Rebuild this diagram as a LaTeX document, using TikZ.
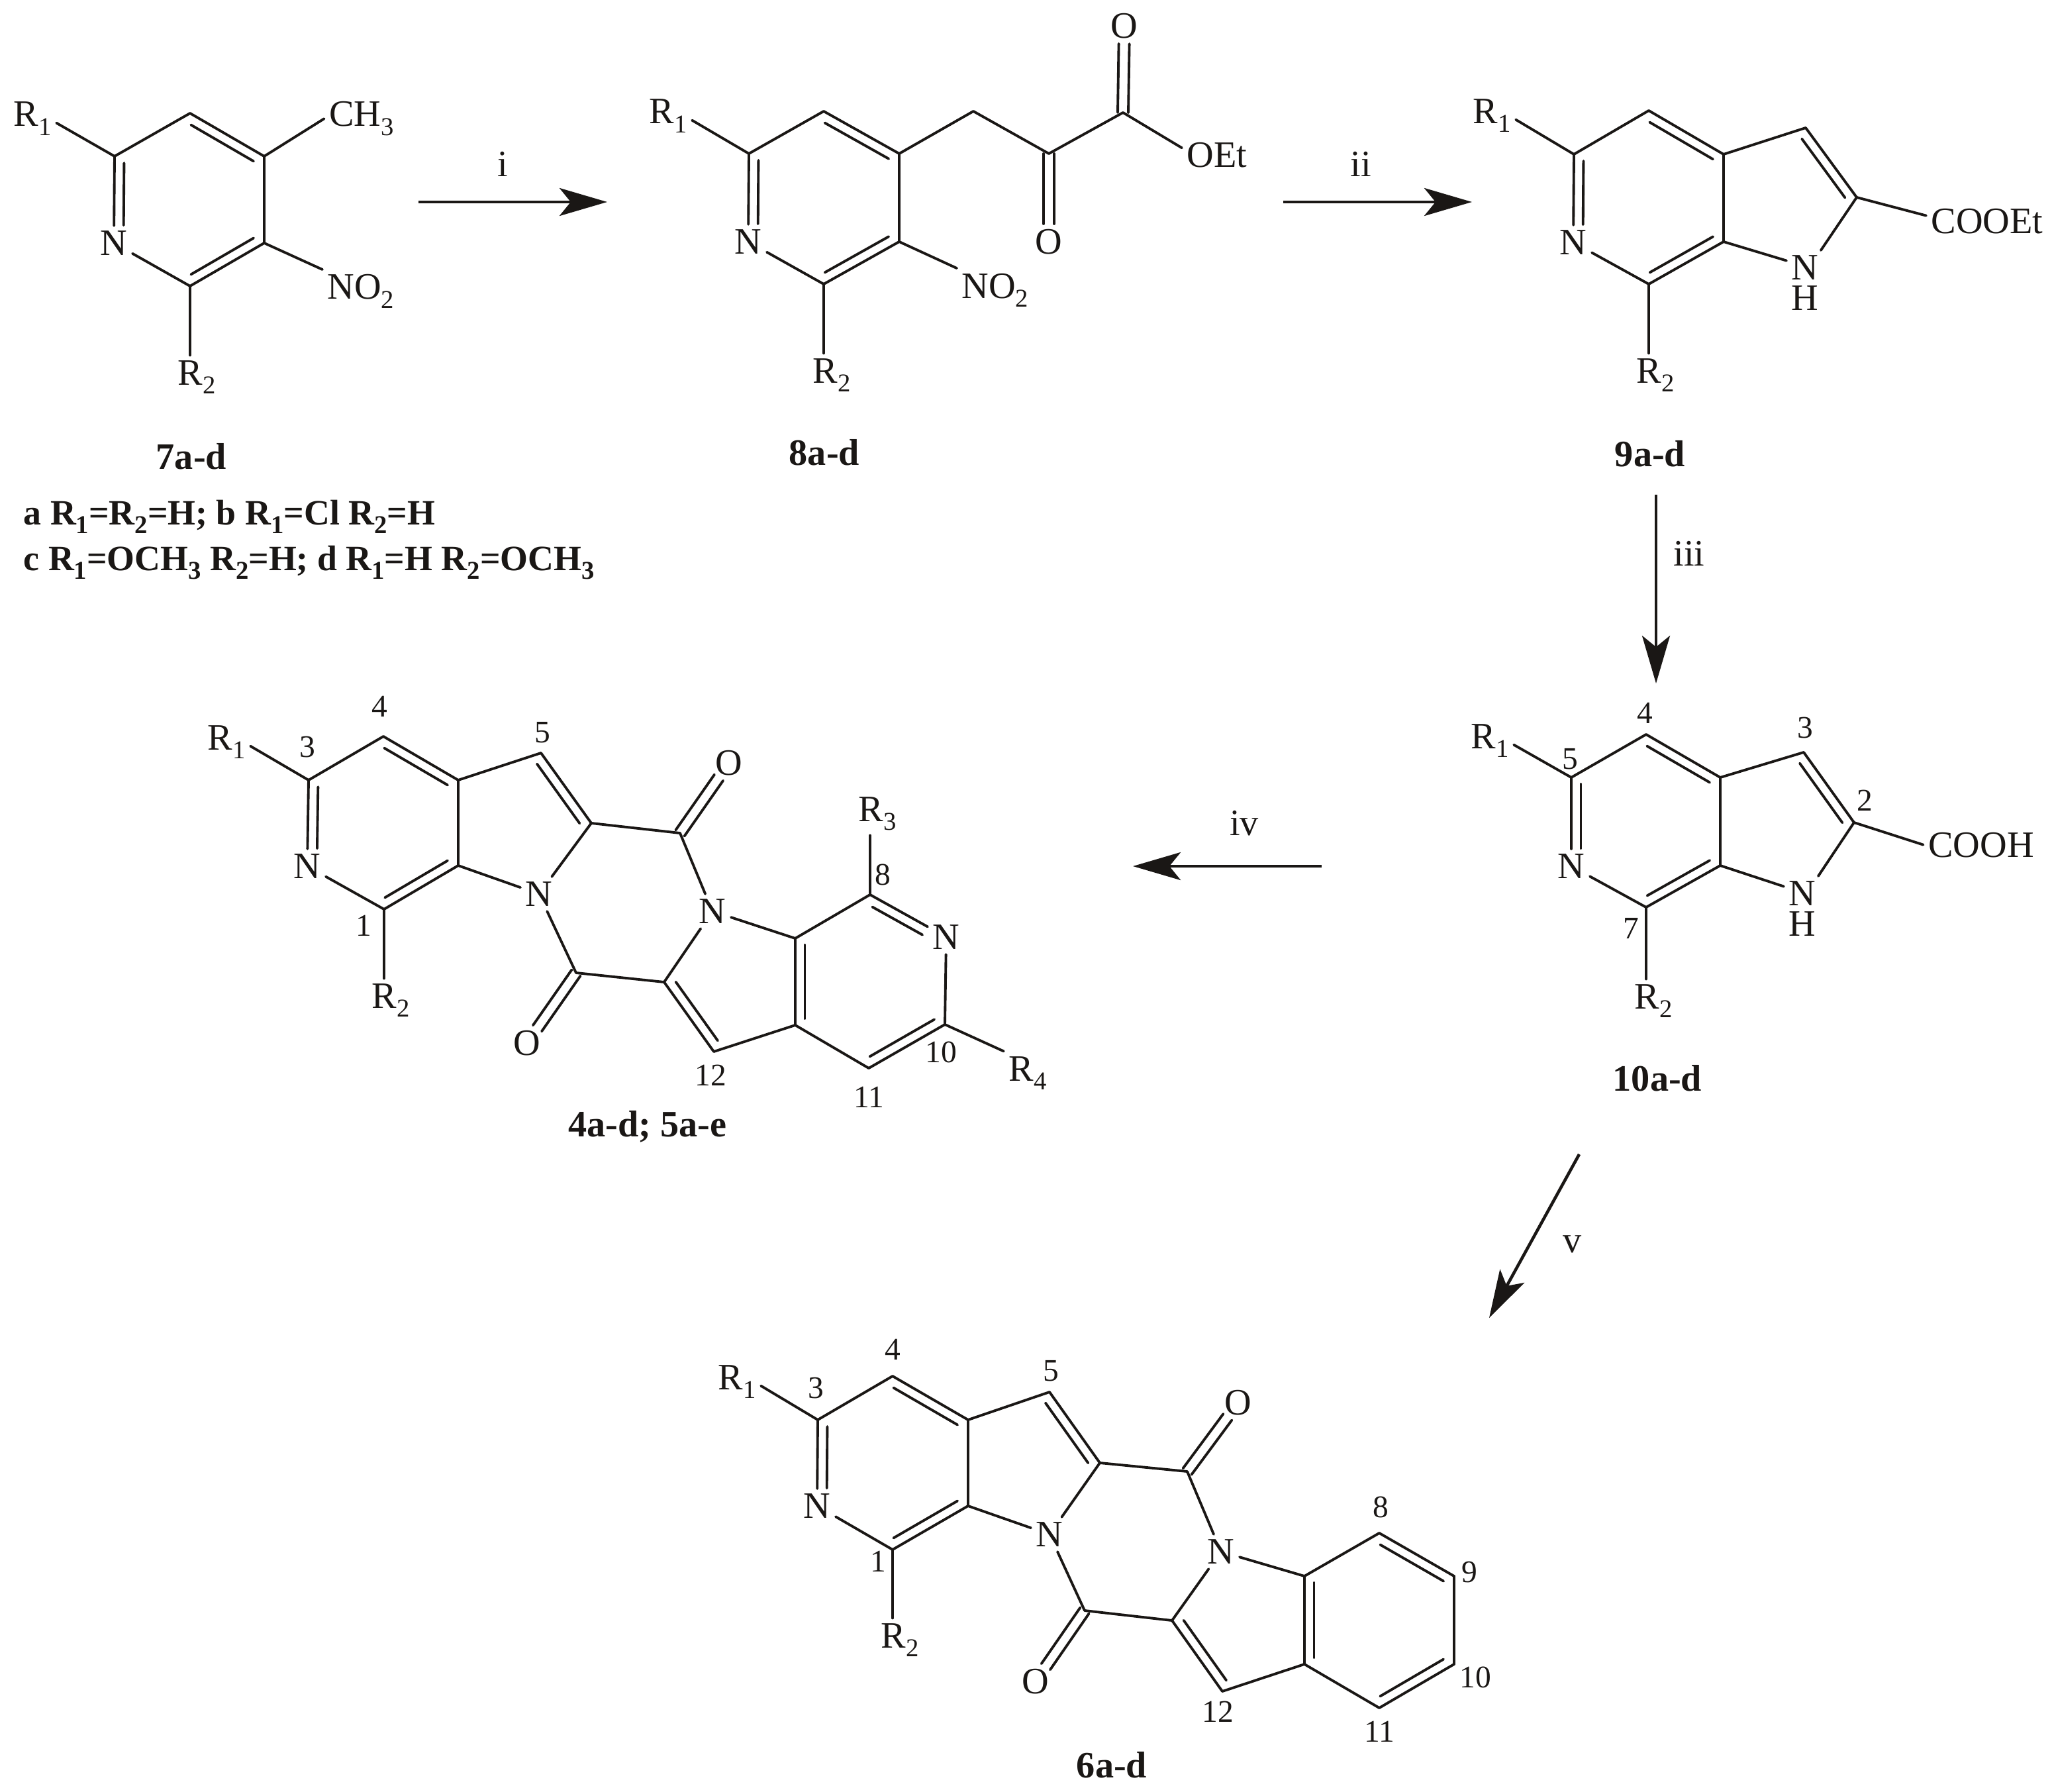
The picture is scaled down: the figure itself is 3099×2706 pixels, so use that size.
\documentclass[tikz,border=0pt]{standalone}
\usepackage{fontspec}
\setmainfont{Liberation Serif}
\usetikzlibrary{arrows.meta}
\usetikzlibrary{calc}
\definecolor{ink}{HTML}{1A1715}
\newcommand{\sbs}[1]{\raisebox{-3.8pt}{\fontsize{11}{11}\selectfont #1}}
\tikzstyle{atom}=[font=\fontsize{16}{18}\selectfont,inner sep=2pt,text=ink]
\tikzstyle{group}=[atom,anchor=base]
\tikzstyle{amine}=[font=\fontsize{16}{13}\selectfont,inner sep=2pt,text=ink,align=center,anchor=north]
\tikzstyle{locant}=[font=\fontsize{13.5}{15}\selectfont,inner sep=0pt,anchor=base,text=ink]
\tikzstyle{compound}=[font=\fontsize{16}{18}\selectfont\bfseries,inner sep=0pt,anchor=base,text=ink]
\tikzstyle{variant}=[font=\fontsize{15.3}{18}\selectfont\bfseries,inner sep=0pt,anchor=base west,text=ink]
\tikzstyle{bond}=[draw=ink,line width=1.1pt,line cap=round]
\tikzstyle{reaction}=[draw=ink,line width=1.3pt,-{Stealth[length=0.72cm,width=0.42cm,inset=0.17cm,fill=ink]}]
\begin{document}
\begin{tikzpicture}[x=0.01cm,y=-0.01cm]
    \useasboundingbox (0,0) rectangle (3099,2706);

    % ring corners of every compound
    \foreach \pos/ \name in {{(173,236)/a1},{(287,171)/a2},{(399,236)/a3},{(399,367)/a4},{(287,432)/a5},
        {(1131,232)/b1},{(1244,168)/b2},{(1358,232)/b3},{(1358,365)/b4},{(1244,429)/b5},{(1470,168)/b6},{(1584,232)/b7},{(1696,170)/b8},
        {(2377,233)/c1},{(2490,167)/c2},{(2603,233)/c3},{(2603,365)/c4},{(2490,429)/c5},{(2727,193)/c6},{(2804,298)/c7},
        {(2373,1174)/d1},{(2486,1109)/d2},{(2598,1174)/d3},{(2598,1307)/d4},{(2486,1370)/d5},{(2724,1136)/d6},{(2800,1242)/d7},
        {(466,1178)/e1},{(579,1112)/e2},{(692,1178)/e3},{(692,1307)/e4},{(580,1373)/e5},{(817,1137)/e6},{(893,1243)/e7},{(1027,1258)/e8},
        {(870,1469)/e9},{(1003,1483)/e10},{(1078,1588)/e11},{(1201,1548)/e12},{(1201,1417)/e13},{(1314,1351)/e14},{(1427,1547)/e15},{(1312,1613)/e16},
        {(1235,2144)/f1},{(1348,2078)/f2},{(1462,2144)/f3},{(1462,2274)/f4},{(1348,2340)/f5},{(1585,2102)/f6},{(1661,2209)/f7},{(1793,2222)/f8},
        {(1638,2432)/f9},{(1770,2447)/f10},{(1846,2554)/f11},{(1970,2513)/f12},{(1970,2380)/f13},{(2083,2315)/f14},{(2196,2380)/f15},{(2196,2513)/f16},{(2083,2579)/f17}}
        \path \pos coordinate (\name);

    % N and O in the rings
    \foreach \pos/ \name/ \txt in {{(172,367)/aN/N},{(1130,365)/bN/N},{(1698,39)/bO1/O},{(1584,365)/bO2/O},
        {(2376,366)/cN/N},{(2373,1308)/dN/N},
        {(464,1308)/eN1/N},{(814,1350)/eN2/N},{(1076,1376)/eN3/N},{(1429,1415)/eN4/N},{(1101,1152)/eO1/O},{(796,1575)/eO2/O},
        {(1234,2274)/fN1/N},{(1585,2317)/fN2/N},{(1844,2343)/fN3/N},{(1870,2118)/fO1/O},{(1564,2539)/fO2/O}}
        \node[atom] (\name) at \pos {\txt};
    \node[amine] (cNH) at (2726,378) {N\\H};
    \node[amine] (dNH) at (2722,1323) {N\\H};

    % substituents, at their baselines
    \foreach \pos/ \name/ \txt in {{(49,191)/aR1/R\sbs{1}},{(297,581)/aR2/R\sbs{2}},{(546,191)/aCH/CH\sbs{3}},{(545,452)/aNO/NO\sbs{2}},
        {(1009,187)/bR1/R\sbs{1}},{(1256,578)/bR2/R\sbs{2}},{(1503,450)/bNO/NO\sbs{2}},{(1838,252)/bOEt/OEt},
        {(2253,186)/cR1/R\sbs{1}},{(2500,578)/cR2/R\sbs{2}},{(3001,352)/cCO/COOEt},
        {(2250,1130)/dR1/R\sbs{1}},{(2497,1523)/dR2/R\sbs{2}},{(2992,1294)/dCO/COOH},
        {(342,1132)/eR1/R\sbs{1}},{(590,1522)/eR2/R\sbs{2}},{(1325,1240)/eR3/R\sbs{3}},{(1552,1632)/eR4/R\sbs{4}},
        {(1113,2098)/fR1/R\sbs{1}},{(1359,2488)/fR2/R\sbs{2}}}
        \node[group] (\name) at \pos {\txt};

    % ring position numbers
    \foreach \pos/ \name/ \txt in {{(2484,1092)/dl4/4},{(2726,1114)/dl3/3},{(2371,1161)/dl5/5},{(2816,1224)/dl2/2},{(2463,1417)/dl7/7},
        {(573,1082)/el4/4},{(819,1121)/el5/5},{(464,1143)/el3/3},{(549,1413)/el1/1},{(1333,1336)/el8/8},{(1421,1604)/el10/10},{(1073,1639)/el12/12},{(1312,1672)/el11/11},
        {(1348,2053)/fl4/4},{(1587,2085)/fl5/5},{(1232,2111)/fl3/3},{(1326,2373)/fl1/1},{(2085,2291)/fl8/8},{(2219,2389)/fl9/9},{(2228,2548)/fl10/10},{(2083,2630)/fl11/11},{(1839,2600)/fl12/12}}
        \node[locant] (\name) at \pos {\txt};

    % compound numbers
    \foreach \pos/ \name/ \txt in {{(289,708)/n7/7a-d},{(1245,702)/n8/8a-d},{(2492,704)/n9/9a-d},{(2503,1647)/n10/10a-d},{(978,1716)/n4/{4a-d; 5a-e}},{(1679,2684)/n6/6a-d}}
        \node[compound] (\name) at \pos {\txt};
    \node[variant] (va) at (35,792) {a R\sbs{1}=R\sbs{2}=H; b R\sbs{1}=Cl R\sbs{2}=H};
    \node[variant] (vb) at (35,861) {c R\sbs{1}=OCH\sbs{3} R\sbs{2}=H; d R\sbs{1}=H R\sbs{2}=OCH\sbs{3}};

    % Connect ring corners and labels with single lines
    \foreach \source/ \dest in {a1/a2,a2/a3,a3/a4,a4/a5,a5/aN,aN/a1,a1/aR1.-10,a3/aCH.west,a4/aNO.north west,
        b1/b2,b2/b3,b3/b4,b4/b5,b5/bN,bN/b1,b3/b6,b6/b7,b7/b8,b8/bOEt.169,b1/bR1.-10,b4/bNO.north west,
        c1/c2,c2/c3,c3/c4,c4/c5,c5/cN,cN/c1,c3/c6,c6/c7,c7/cNH.64,cNH.130/c4,c7/cCO.175,c1/cR1.-10,
        d1/d2,d2/d3,d3/d4,d4/d5,d5/dN,dN/d1,d3/d6,d6/d7,d7/dNH.64,dNH.130/d4,d7/dCO.west,d1/dR1.-10,
        e1/e2,e2/e3,e3/e4,e4/e5,e5/eN1,eN1/e1,e3/e6,e6/e7,e7/eN2,eN2/e4,e7/e8,e8/eN3,eN3/e10,e10/e9,e9/eN2,
        e10/e11,e11/e12,e12/e13,e13/eN3,e13/e14,e14/eN4,eN4/e15,e15/e16,e16/e12,e1/eR1.-10,e15/eR4.north west,
        f1/f2,f2/f3,f3/f4,f4/f5,f5/fN1,fN1/f1,f3/f6,f6/f7,f7/fN2,fN2/f4,f7/f8,f8/fN3,fN3/f10,f10/f9,f9/fN2,
        f10/f11,f11/f12,f12/f13,f13/fN3,f13/f14,f14/f15,f15/f16,f16/f17,f17/f12,f1/fR1.-10}
        \path[bond] (\source) -- (\dest);
    \foreach \vtx/ \lbl in {a5/aR2,b5/bR2,c5/cR2,d5/dR2,e5/eR2,f5/fR2}
        \path[bond] (\vtx) -- (\vtx |- \lbl.north);
    \path[bond] (e14) -- (e14 |- eR3.south);

    % second line of ring double bonds, on the left going from source to dest
    \foreach \source/ \dest in {a3/a2,a5/a4,b3/b2,b5/b4,c3/c2,c5/c4,c7/c6,d3/d2,d5/d4,d7/d6,
        e3/e2,e5/e4,e7/e6,e10/e11,e13/e12,e16/e15,f3/f2,f5/f4,f7/f6,f10/f11,f13/f12,f17/f16,f15/f14}
        \path[bond,shorten <=0.1cm,shorten >=0.1cm] ($(\source)!0.145cm!90:(\dest)$) -- ($(\dest)!0.145cm!-90:(\source)$);
    \foreach \source/ \dest/ \cutA/ \cutB in {a1/aN/0.1/0.27,b1/bN/0.1/0.27,c1/cN/0.1/0.27,d1/dN/0.1/0.27,e1/eN1/0.1/0.27,eN4/e14/0.33/0.12,f1/fN1/0.1/0.27}
        \path[bond,shorten <=\cutA cm,shorten >=\cutB cm] ($(\source)!0.145cm!90:(\dest)$) -- ($(\dest)!0.145cm!-90:(\source)$);

    % carbonyls
    \foreach \source/ \dest in {b8/bO1,b7/bO2,e8/eO1,e9/eO2,f8/fO1,f9/fO2}{
        \path[bond,shorten >=0.27cm] ($(\source)!0.08cm!90:(\dest)$) -- ($(\dest)!0.08cm!-90:(\source)$);
        \path[bond,shorten >=0.27cm] ($(\source)!-0.08cm!90:(\dest)$) -- ($(\dest)!-0.08cm!-90:(\source)$);
    }

    % reaction arrows
    \foreach \pos/ \name in {{(632,305)/r1s},{(917,305)/r1e},{(1938,305)/r2s},{(2223,305)/r2e},{(2501,747)/r3s},{(2501,1032)/r3e},
        {(1996,1308)/r4s},{(1711,1308)/r4e},{(2385,1743)/r5s},{(2249,1990)/r5e}}
        \path \pos coordinate (\name);
    \foreach \source/ \dest in {r1s/r1e,r2s/r2e,r3s/r3e,r4s/r4e,r5s/r5e}
        \path[reaction] (\source) -- (\dest);
    \foreach \pos/ \name/ \txt in {{(759,267)/s1/i},{(2055,267)/s2/ii},{(2551,854)/s3/iii},{(1879,1261)/s4/iv},{(2375,1891)/s5/v}}
        \node[group,inner sep=0pt] (\name) at \pos {\txt};
\end{tikzpicture}
\end{document}
